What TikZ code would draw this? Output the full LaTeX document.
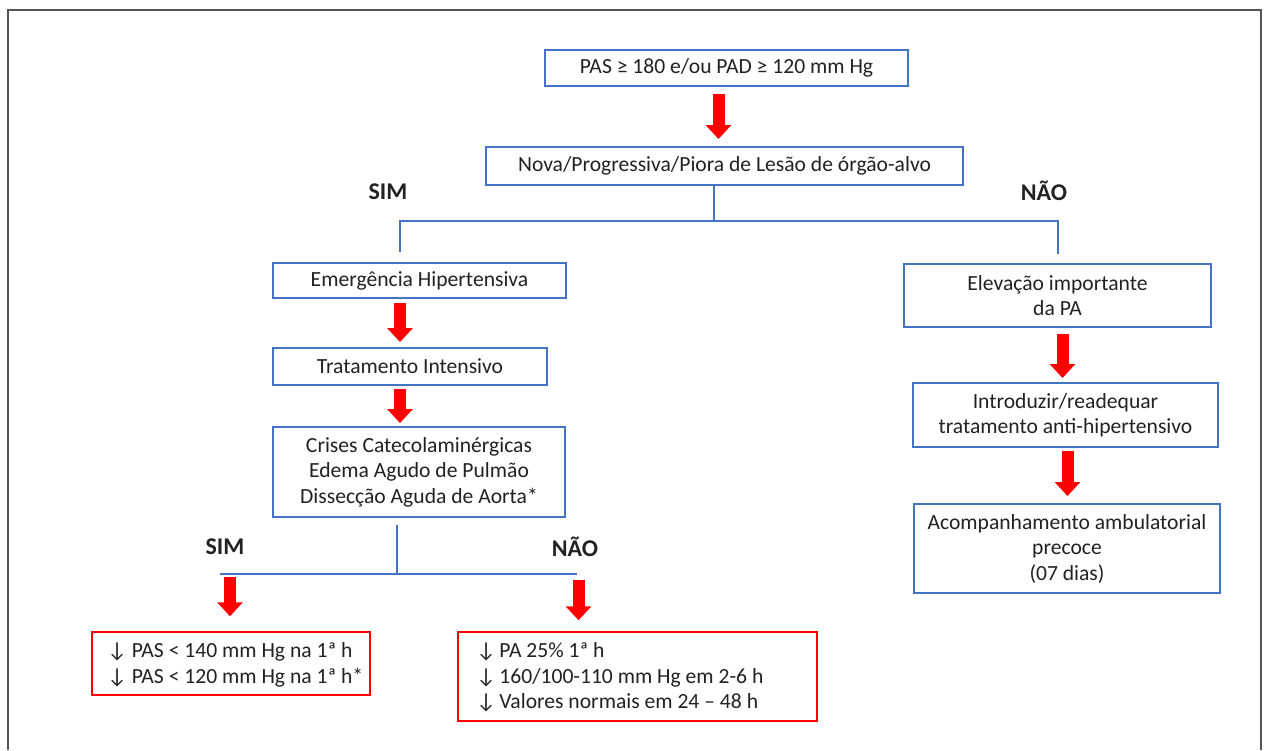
\documentclass[tikz,border=0pt]{standalone}
\usepackage{fontspec}
\setmainfont{Carlito}
\usetikzlibrary{arrows.meta}
\definecolor{boxblue}{HTML}{4472C4}
\definecolor{txt}{HTML}{222222}
\definecolor{framegray}{HTML}{555555}
\definecolor{ared}{HTML}{FF0000}
\begin{document}
\begin{tikzpicture}[x=1pt,y=-1pt,
  bbox/.style={draw=boxblue, line width=2pt, fill=white, text=txt,
    font=\fontsize{21.6}{25.5}\selectfont, align=center, inner sep=0pt},
  rbox/.style={draw=ared, line width=1.5pt, fill=white, inner sep=0pt},
  rtext/.style={text=txt, font=\fontsize{21.6}{25.5}\selectfont,
    align=flush left, inner sep=0pt, anchor=west},
  conn/.style={draw=boxblue, line width=2.2pt},
  redarrow/.style={draw=ared, line width=12pt,
    -{Triangle[width=25pt,length=14pt]}},
  lbl/.style={font=\bfseries\fontsize{24}{28}\selectfont, text=txt},
  framel/.style={draw=framegray, line width=1.3pt}
]
\useasboundingbox (0,0) rectangle (1264,750);
\fill[white] (0,0) rectangle (1264,750);
\draw[framel] (8,750) -- (8,10) -- (1261,10) -- (1261,750);

% boxes
\node[bbox, minimum width=363pt, minimum height=36pt] (b1) at (726.5,68)
  {PAS ≥ 180 e/ou PAD ≥ 120 mm Hg};
\node[bbox, minimum width=477pt, minimum height=38pt] (b2) at (724.5,166)
  {Nova/Progressiva/Piora de Lesão de órgão-alvo};
\node[bbox, minimum width=293pt, minimum height=35pt] (emerg) at (419.5,280.5)
  {Emergência Hipertensiva};
\node[bbox, minimum width=274pt, minimum height=37pt] (trat) at (410,366.5)
  {Tratamento Intensivo};
\node[bbox, minimum width=292pt, minimum height=90pt] (crises) at (419,472)
  {Crises Catecolaminérgicas\\Edema Agudo de Pulmão\\Dissecção Aguda de Aorta*};
\node[bbox, minimum width=307pt, minimum height=63pt] (elev) at (1057.5,295.5)
  {Elevação importante\\da PA};
\node[bbox, minimum width=305pt, minimum height=64pt] (intro) at (1065.5,415)
  {Introduzir/readequar\\tratamento anti-hipertensivo};
\node[bbox, minimum width=306pt, minimum height=89pt] (acomp) at (1067,548.5)
  {Acompanhamento ambulatorial\\precoce\\(07 dias)};

\node[rbox, minimum width=278pt, minimum height=63pt] (r1) at (231,663.5) {};
\node[rtext] (r1t) at ([xshift=16pt,yshift=-1.5pt]r1.west)
  {↓ PAS < 140 mm Hg na 1ª h\\↓ PAS < 120 mm Hg na 1ª h*};
\node[rbox, minimum width=359pt, minimum height=89pt] (r2) at (637.5,676.5) {};
\node[rtext] (r2t) at ([xshift=19pt,yshift=-1pt]r2.west)
  {\makebox[23pt][l]{↓}PA 25\% 1ª h\\
   \makebox[23pt][l]{↓}160/100-110 mm Hg em 2-6 h\\
   \makebox[23pt][l]{↓}Valores normais em 24 – 48 h};

% labels
\node[lbl] (sim1) at (388,192) {SIM};
\node[lbl] (nao1) at (1044,191) {NÃO};
\node[lbl] (sim2) at (225,547) {SIM};
\node[lbl] (nao2) at (575,547) {NÃO};

% top split
\coordinate (j1) at (714,221);
\coordinate (jl) at (400,221);
\coordinate (jr) at (1058,221);
\draw[conn] (b2.south -| j1) -- (j1);
\draw[conn] ([yshift=10pt]emerg.north -| jl) -- (jl) -- (jr) -- ([yshift=9pt]elev.north -| jr);

% bottom split
\coordinate (jb) at (397,574);
\coordinate (jbl) at (220,574);
\coordinate (jbr) at (577,574);
\draw[conn] ([yshift=-7pt]crises.south -| jb) -- (jb);
\draw[conn] (jbl) -- (jbr);
\coordinate (al) at (230,577);
\coordinate (ar) at (578.5,580);

% red arrows
\draw[redarrow] ([xshift=-8pt,yshift=-7pt]b1.south) -- ([xshift=-6pt,yshift=7pt]b2.north);
\draw[redarrow] ([xshift=-19.5pt,yshift=-3.5pt]emerg.south) -- ([xshift=-10pt,yshift=5pt]trat.north);
\draw[redarrow] ([xshift=-10pt,yshift=-3pt]trat.south) -- ([xshift=-19pt,yshift=3pt]crises.north);
\draw[redarrow] ([xshift=5pt,yshift=-6pt]elev.south) -- ([xshift=-3pt,yshift=4pt]intro.north);
\draw[redarrow] ([xshift=2pt,yshift=-3pt]intro.south) -- ([xshift=0.5pt,yshift=7pt]acomp.north);
\draw[redarrow] (al) -- ([xshift=-1pt,yshift=15pt]r1.north);
\draw[redarrow] (ar) -- ([xshift=-59pt,yshift=11pt]r2.north);
\end{tikzpicture}
\end{document}
